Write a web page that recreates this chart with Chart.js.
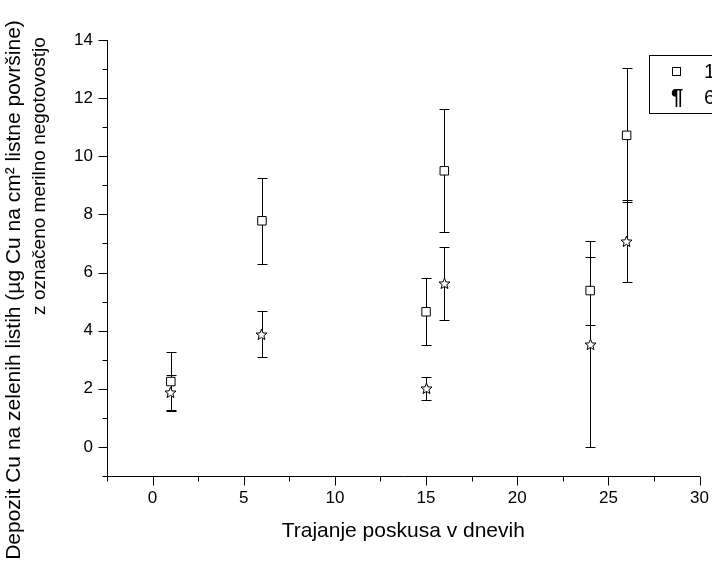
<!DOCTYPE html>
<html><head><meta charset="utf-8">
<script src="https://cdn.jsdelivr.net/npm/chart.js@4.4.0/dist/chart.umd.min.js"></script>
<style>html,body{margin:0;padding:0;background:#fff;} #wrap{width:712px;height:567px;position:relative;overflow:hidden;}</style>
</head><body><div id="wrap"><canvas id="c" width="712" height="567"></canvas></div>
<script>
const days = [1, 6, 15, 16, 24, 26];
const series1Values = [2.25, 7.78, 4.65, 9.5, 5.38, 10.72];
const series1Err = [1.0, 1.48, 1.15, 2.12, 1.17, 2.3];
const series6Values = [1.88, 3.88, 2.02, 5.63, 3.54, 7.08];
const series6Err = [0.6, 0.8, 0.4, 1.25, 3.54, 1.4];
const xTicks = [0, 5, 10, 15, 20, 25, 30];
const xMinor = [-2.5, 2.5, 7.5, 12.5, 17.5, 22.5, 27.5];
const yTicks = [0, 2, 4, 6, 8, 10, 12, 14];
const yMinor = [-1, 1, 3, 5, 7, 9, 11, 13];
const legendLabels = ['1', '6'];
const legendSymbols = ['\u25A1', '\u00B6'];
const xTitle = 'Trajanje poskusa v dnevih';
const yTitleLines = ['Depozit Cu na zelenih listih (\u00B5g Cu na cm\u00B2 listne povr\u0161ine)', 'z ozna\u010Deno merilno negotovostjo'];

const FONT = '"Liberation Sans", Arial, sans-serif';

// open five-point star marker
function makeStar() {
  const c = document.createElement('canvas');
  c.width = 13; c.height = 13;
  const g = c.getContext('2d');
  g.beginPath();
  for (let i = 0; i < 10; i++) {
    const r = i % 2 === 0 ? 5.8 : 2.5;
    const a = -Math.PI / 2 + i * Math.PI / 5;
    const px = 6.5 + r * Math.cos(a), py = 6.9 + r * Math.sin(a);
    if (i === 0) g.moveTo(px, py); else g.lineTo(px, py);
  }
  g.closePath();
  g.fillStyle = '#fff'; g.fill();
  g.strokeStyle = '#000'; g.lineWidth = 1; g.stroke();
  return c;
}
const starImg = makeStar();

const errorBars = {
  id: 'errorBars',
  beforeDatasetsDraw(chart) {
    const ctx = chart.ctx, xs = chart.scales.x, ys = chart.scales.y;
    ctx.save();
    ctx.strokeStyle = '#000'; ctx.lineWidth = 1;
    chart.data.datasets.forEach(ds => {
      ds.data.forEach((p, j) => {
        const e = ds.err[j];
        const x = Math.round(xs.getPixelForValue(p.x)) + 0.5;
        const yt = Math.round(ys.getPixelForValue(p.y + e)) + 0.5;
        const yb = Math.round(ys.getPixelForValue(p.y - e)) + 0.5;
        ctx.beginPath();
        ctx.moveTo(x, yt); ctx.lineTo(x, yb);
        ctx.moveTo(x - 5, yt); ctx.lineTo(x + 5, yt);
        ctx.moveTo(x - 5, yb); ctx.lineTo(x + 5, yb);
        ctx.stroke();
      });
    });
    ctx.restore();
    ctx.imageSmoothingEnabled = false;
  },
  afterDatasetsDraw(chart) { chart.ctx.imageSmoothingEnabled = true; }
};

const axisDecor = {
  id: 'axisDecor',
  afterDraw(chart) {
    const ctx = chart.ctx, xs = chart.scales.x, ys = chart.scales.y, a = chart.chartArea;
    ctx.save();
    ctx.strokeStyle = '#000'; ctx.lineWidth = 1;
    ctx.beginPath();
    const L = Math.round(a.left) + 0.5, B = Math.round(a.bottom) + 0.5;
    xTicks.forEach(v => { const x = Math.round(xs.getPixelForValue(v)) + 0.5; ctx.moveTo(x, B); ctx.lineTo(x, B + 9); });
    xMinor.forEach(v => { const x = Math.round(xs.getPixelForValue(v)) + 0.5; ctx.moveTo(x, B); ctx.lineTo(x, B + 5); });
    yTicks.forEach(v => { const y = Math.round(ys.getPixelForValue(v)) + 0.5; ctx.moveTo(L, y); ctx.lineTo(L - 9, y); });
    yMinor.forEach(v => { const y = Math.round(ys.getPixelForValue(v)) + 0.5; ctx.moveTo(L, y); ctx.lineTo(L - 5, y); });
    ctx.stroke();

    // titles
    ctx.fillStyle = '#000';
    ctx.font = '21px ' + FONT;
    ctx.textAlign = 'center'; ctx.textBaseline = 'middle';
    ctx.fillText(xTitle, (a.left + a.right) / 2, 531);
    ctx.save();
    ctx.translate(14, 290); ctx.rotate(-Math.PI / 2);
    ctx.fillText(yTitleLines[0], 0, 0);
    ctx.restore();
    ctx.save();
    ctx.font = '19px ' + FONT;
    ctx.translate(40, 176); ctx.rotate(-Math.PI / 2);
    ctx.fillText(yTitleLines[1], 0, 0);
    ctx.restore();

    // legend box
    ctx.strokeRect(649.5, 55.5, 80, 58);
    ctx.strokeRect(672.5, 67.5, 8, 8);
    ctx.font = 'bold 22px ' + FONT;
    ctx.textAlign = 'center';
    ctx.fillText(legendSymbols[1], 677, 98);
    ctx.font = '20px ' + FONT;
    ctx.textAlign = 'left';
    ctx.fillText(legendLabels[0], 704, 72);
    ctx.fillText(legendLabels[1], 704, 98);
    ctx.restore();
  }
};

function axisCommon(min, max, ticks) {
  return {
    type: 'linear', min: min, max: max,
    afterBuildTicks: s => { s.ticks = ticks.map(v => ({ value: v })); },
    grid: { display: true, drawOnChartArea: false, color: 'rgba(0,0,0,0)', tickLength: 9 },
    border: { display: true, color: '#000', width: 1 },
    ticks: { color: '#000', font: { family: FONT, size: 17 }, autoSkip: false, maxRotation: 0 }
  };
}
const xAxis = axisCommon(-2.5, 30, xTicks);
xAxis.ticks.padding = 3;
xAxis.afterFit = s => { s.height = 91; };
const yAxis = axisCommon(-1, 14, yTicks);
yAxis.ticks.padding = 5;
yAxis.afterFit = s => { s.width = 107; };

new Chart(document.getElementById('c'), {
  type: 'scatter',
  data: {
    datasets: [
      { label: legendLabels[0], data: days.map((d, i) => ({ x: d, y: series1Values[i] })), err: series1Err,
        pointStyle: 'rect', pointRadius: 6, pointHoverRadius: 6, backgroundColor: '#fff', borderColor: '#000', borderWidth: 1 },
      { label: legendLabels[1], data: days.map((d, i) => ({ x: d, y: series6Values[i] })), err: series6Err,
        pointStyle: starImg, pointRadius: 6, backgroundColor: '#fff', borderColor: '#000', borderWidth: 1 }
    ]
  },
  options: {
    responsive: false, animation: false, devicePixelRatio: 1,
    layout: { padding: { top: 40, right: 11, left: 0, bottom: 0 } },
    plugins: { legend: { display: false }, tooltip: { enabled: false } },
    scales: { x: xAxis, y: yAxis }
  },
  plugins: [errorBars, axisDecor]
});
</script></body></html>
